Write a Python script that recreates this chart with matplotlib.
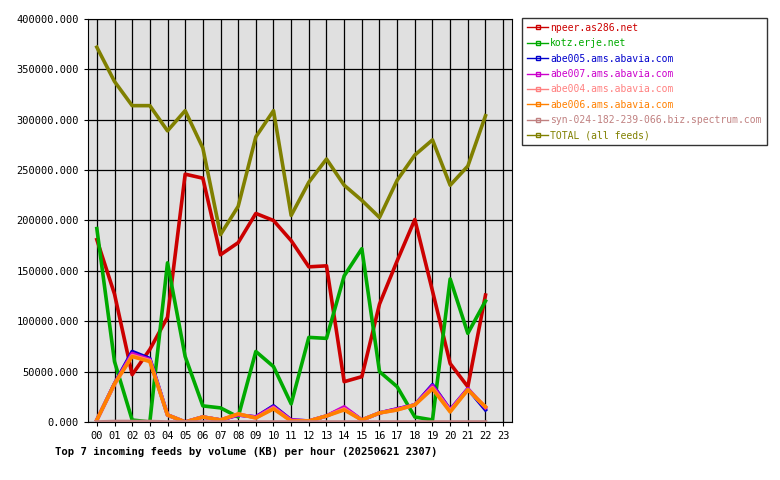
import matplotlib
matplotlib.use("Agg")
import matplotlib.pyplot as plt
from matplotlib.lines import Line2D

hours = ["%02d" % h for h in range(24)]
npeer = [181000,127000,47000,72000,104000,246000,242000,166000,178000,207000,200000,180000,154000,155000,40000,45000,117000,160000,201000,130000,58000,35000,126000]
kotz = [192000,60000,2000,0,158000,65000,16000,14000,5000,70000,55000,18000,84000,83000,145000,172000,50000,35000,5000,2000,142000,88000,120000]
abe005 = [2000,38000,70000,63000,7000,0,5000,2000,7000,5000,16000,2000,1000,6000,14000,2000,9000,13000,17000,37000,12000,33000,12000]
abe007 = [2000,38000,68000,62000,7000,0,5000,2000,7000,5000,15000,2000,1000,6000,15000,2000,9000,13000,17000,36000,12000,33000,14000]
abe004 = [2000,37000,66000,61000,7000,0,5000,2000,8000,4000,14000,1000,1000,6000,13000,2000,9000,12000,17000,34000,11000,32000,15000]
abe006 = [2000,38000,65000,60000,7000,0,5000,2000,8000,4000,13000,1000,1000,6000,12000,2000,9000,12000,17000,33000,10000,32000,15000]
syn = [0,500,500,500,0,0,0,0,0,0,0,0,0,0,0,0,0,0,0,0,0,0,0]
total = [372000,338000,314000,314000,289000,309000,272000,186000,214000,283000,309000,205000,238000,261000,235000,220000,203000,240000,265000,280000,235000,254000,304000]
yticks = [0,50000,100000,150000,200000,250000,300000,350000,400000]

series = [("npeer.as286.net", npeer, "#cc0000"),
          ("kotz.erje.net", kotz, "#00aa00"),
          ("abe005.ams.abavia.com", abe005, "#0000cc"),
          ("abe007.ams.abavia.com", abe007, "#cc00cc"),
          ("abe004.ams.abavia.com", abe004, "#ff8080"),
          ("abe006.ams.abavia.com", abe006, "#ff8000"),
          ("syn-024-182-239-066.biz.spectrum.com", syn, "#c08080"),
          ("TOTAL (all feeds)", total, "#808000")]

plt.rcParams["font.family"] = "DejaVu Sans Mono"
fig = plt.figure(figsize=(7.8, 4.8), dpi=100)
ax = fig.add_axes([88/780, 1-422/480, (512-88)/780, (422-19)/480])
ax.set_facecolor("#e0e0e0")
x = list(range(len(total)))
for name, vals, col in series:
    ax.plot(x, vals, color=col, lw=2.6, zorder=3)
ax.set_xlim(-0.5, 23.5)
ax.set_ylim(0, 400000)
ax.set_xticks(range(24))
ax.set_xticklabels(hours, fontsize=7.5)
ax.set_yticks(yticks)
ax.set_yticklabels(["%d.000" % v for v in yticks], fontsize=7.5)
ax.grid(True, color="black", lw=0.9, zorder=1)
ax.set_axisbelow(True)
ax.tick_params(length=3)
for s in ax.spines.values():
    s.set_color("black")
fig.text(55/780, 1-452/480, "Top 7 incoming feeds by volume (KB) per hour (20250621 2307)",
         fontsize=7.6, fontweight="bold", va="center")
handles = [Line2D([0], [0], color=c, lw=1, marker="s", markersize=2.5, markerfacecolor="none") for _, _, c in series]
leg = fig.legend(handles, [n for n, _, _ in series], loc="upper left",
                 bbox_to_anchor=(522/780, 1-18/480), fontsize=7, frameon=True,
                 fancybox=False, edgecolor="black", handlelength=2.2, handletextpad=0.2,
                 labelspacing=0.55, borderaxespad=0, borderpad=0.5, labelcolor="linecolor")
leg.get_frame().set_linewidth(1)
fig.savefig("out.png", dpi=100)
